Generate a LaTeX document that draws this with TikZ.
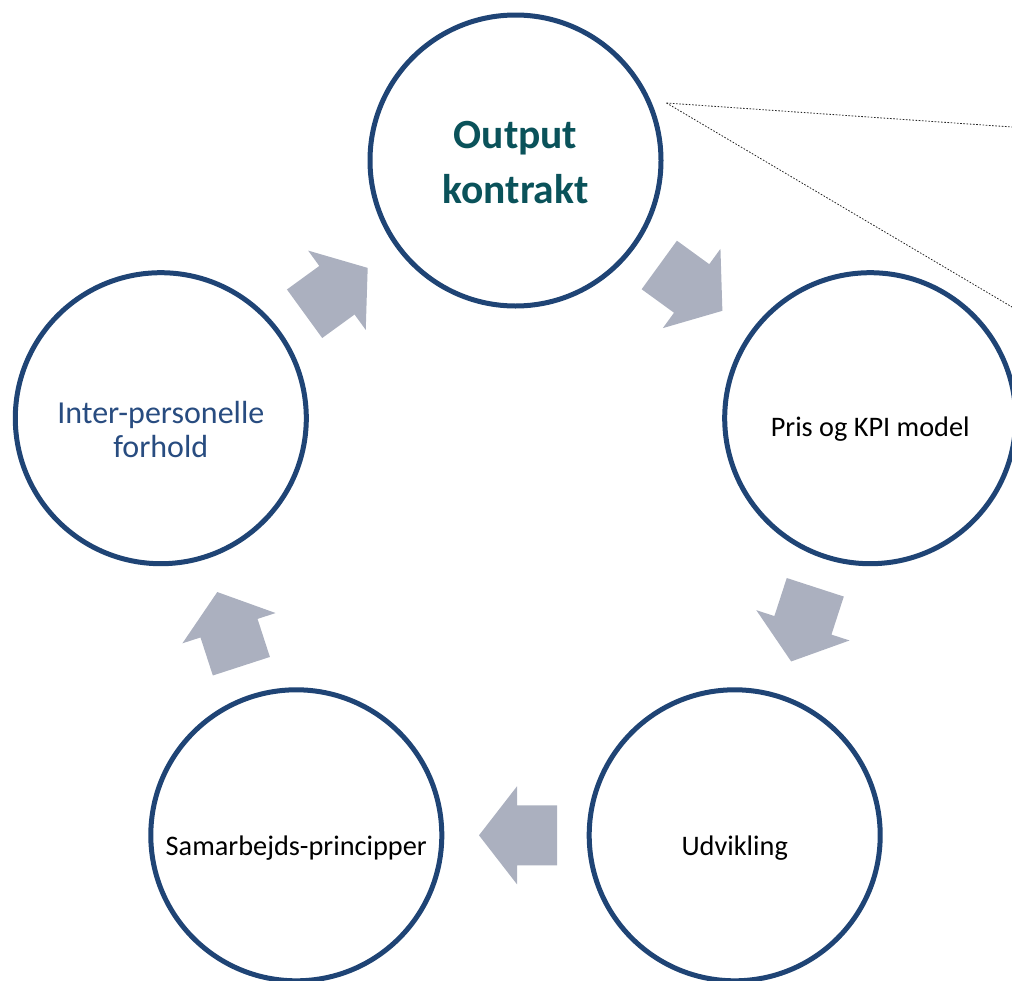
\documentclass[tikz,border=0pt]{standalone}
\usepackage{fontspec}
\setmainfont{Carlito}
\usetikzlibrary{calc}
\definecolor{ringblue}{RGB}{31,68,117}
\definecolor{arrowgray}{RGB}{171,176,191}
\definecolor{tealtext}{RGB}{10,82,90}
\definecolor{bluetext}{RGB}{40,76,128}
\tikzset{
  ring/.style={circle, draw=ringblue, line width=5pt, minimum size=291pt, inner sep=0pt, fill=white},
  lbl/.style={font=\fontsize{28.3}{34}\selectfont, text=black, inner sep=0pt, align=center},
  blockarrowfill/.style={fill=arrowgray, draw=none},
  dotline/.style={line width=0.8pt, dash pattern=on 1.6pt off 1.6pt, draw=black!85}
}
\newcommand{\blockarrowat}[2]{%
  \begin{scope}[shift={#1}, rotate=#2]
    \fill[blockarrowfill] (-41.5,30) -- (-1.5,30) -- (-1.5,49) -- (36.5,0) -- (-1.5,-49) -- (-1.5,-30) -- (-41.5,-30) -- cycle;
  \end{scope}}
\begin{document}
\begin{tikzpicture}[x=1pt,y=-1pt]
\useasboundingbox (0,0) rectangle (1012,980);
\clip (0,0) rectangle (1012,980);
\node[ring] (top) at (515.5,160.5) {};
\node[ring] (right) at (870.2,418.2) {};
\node[ring] (br) at (734.7,835.3) {};
\node[ring] (bl) at (296.3,835.3) {};
\node[ring] (left) at (160.8,418.2) {};
% texts (base anchor = baseline of the last line)
\node[lbl, anchor=base, font=\bfseries\fontsize{41.5}{55}\selectfont, text=tealtext] (toptext) at (515.5,203) {Output\\kontrakt};
\node[lbl, anchor=base] (righttext) at (870.2,436.7) {Pris og KPI model};
\node[lbl, anchor=base] (brtext) at (734.7,855) {Udvikling};
\node[lbl, anchor=base] (bltext) at (296.3,855) {Samarbejds-principper};
\node[lbl, anchor=base, font=\fontsize{32}{34}\selectfont, text=bluetext] (lefttext) at (160.8,457.3) {Inter-personelle\\forhold};
% block arrows
\blockarrowat{($(top)!0.5!(right)$)}{-36}
\blockarrowat{($(right)!0.5!(br)$)}{-108}
\blockarrowat{($(br)!0.5!(bl)$)}{180}
\blockarrowat{($(bl)!0.5!(left)$)}{108}
\blockarrowat{($(left)!0.5!(top)$)}{36}
% dotted lines
\coordinate (apex) at (666.5,103);
\coordinate (farA) at (1012,127);
\coordinate (farB) at (1012,307);
\draw[dotline] (apex) -- (farA);
\draw[dotline] (apex) -- (farB);
\end{tikzpicture}
\end{document}
